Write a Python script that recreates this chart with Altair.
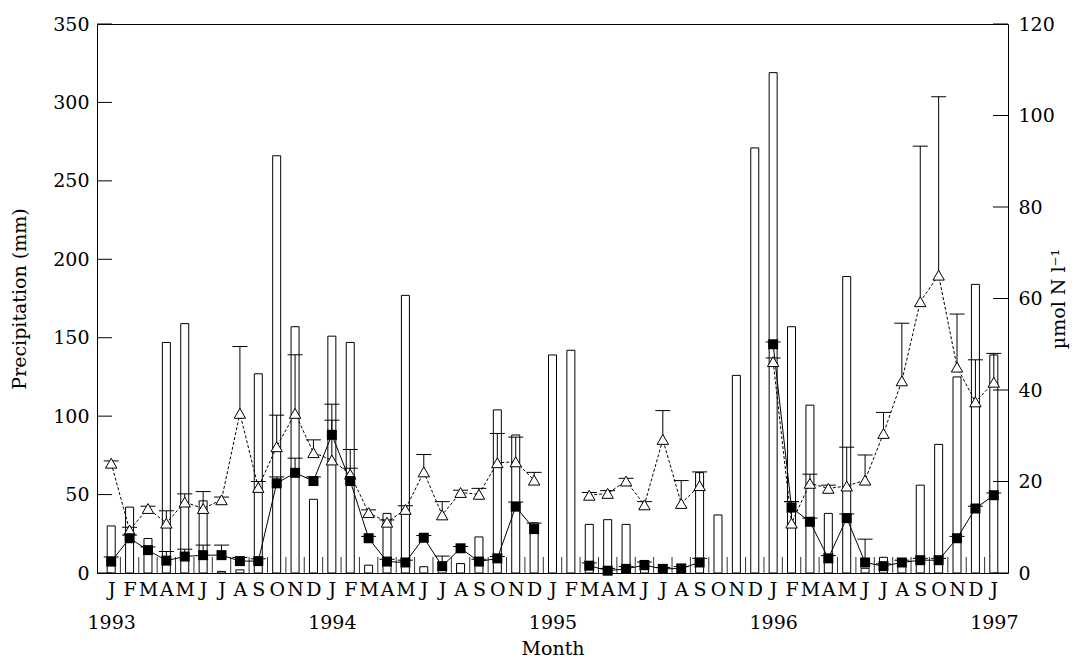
import altair as alt
import pandas as pd

# ---- data ----
months = list(range(49))  # Jan 1993 ... Jan 1997
month_letters = ["J", "F", "M", "A", "M", "J", "J", "A", "S", "O", "N", "D"]
years = [1993, 1994, 1995, 1996, 1997]

precip = [30, 42, 22, 147, 159, 46, 1, 2, 127, 266, 157, 47,
          151, 147, 5, 38, 177, 4, 3, 6, 23, 104, 88, 32,
          139, 142, 31, 34, 31, 8, 0, 0, 64, 37, 126, 271,
          319, 157, 107, 38, 189, 3, 10, 5, 56, 82, 125, 184,
          139]

sq = [2.5, 7.6, 5.0, 2.7, 3.6, 3.9, 3.9, 2.6, 2.6, 19.6, 21.9, 20.1,
      30.2, 20.1, 7.6, 2.5, 2.3, 7.7, 1.5, 5.4, 2.5, 3.2, 14.5, 9.6,
      None, None, 1.6, 0.5, 0.9, 1.7, 0.9, 1.0, 2.3, None, None, None,
      50.0, 14.3, 11.2, 3.2, 12.0, 2.3, 1.5, 2.3, 2.8, 2.8, 7.6, 14.1,
      17.0]
sq_hi = [3.5, 8.3, 5.7, 4.7, 5.2, 6.1, 6.1, 3.4, 3.1, 21.0, 25.1, 21.0,
         33.4, 22.9, 8.0, 3.0, 2.8, 8.2, 3.7, 5.8, 3.0, 3.6, 15.5, 10.9,
         None, None, 2.2, 1.0, 1.4, 2.4, 1.2, 1.4, 3.2, None, None, None,
         50.5, 15.6, 12.0, 3.8, 12.9, 7.4, 2.0, 2.8, 3.2, 3.2, 8.0, 14.6,
         17.5]

tri = [24.0, 9.4, 14.1, 10.9, 15.5, 14.1, 16.0, 34.9, 18.7, 27.6, 34.9, 26.3,
       24.7, 21.6, 13.2, 11.1, 13.9, 22.1, 12.7, 17.6, 17.2, 24.1, 24.3, 20.3,
       None, None, 17.0, 17.4, 20.1, 14.9, 29.2, 15.2, 19.1, None, None, None,
       46.2, 10.9, 19.6, 18.5, 19.0, 20.3, 30.5, 42.0, 59.3, 65.1, 45.0, 37.4,
       41.7]
tri_hi = [24.5, 10.0, 14.6, 13.6, 17.3, 17.8, 16.6, 49.5, 20.0, 34.5, 47.7, 29.1,
          36.9, 27.0, 13.8, 11.6, 14.7, 25.9, 15.6, 18.1, 18.5, 30.5, 29.7, 22.0,
          None, None, 17.6, 18.0, 20.7, 15.6, 35.5, 20.2, 22.1, None, None, None,
          47.0, 15.6, 21.6, 19.2, 27.5, 25.8, 35.1, 54.6, 93.3, 104.1, 56.6, 46.6,
          48.0]

left_ticks = [0, 50, 100, 150, 200, 250, 300, 350]
right_ticks = [0, 20, 40, 60, 80, 100, 120]
month_bounds = [i + 0.5 for i in range(48)]

df = pd.DataFrame({"m": months, "p": precip, "sq": sq, "sq_hi": sq_hi,
                   "tri": tri, "tri_hi": tri_hi})
df["seg_sq"] = df["sq"].isna().cumsum()
df["seg_tri"] = df["tri"].isna().cumsum()

W, H = 911, 549
FONT = "DejaVu Serif"
FS = 19

letters_js = "[" + ",".join("'%s'" % s for s in month_letters) + "]"
label_expr = ("datum.value % 12 == 0 ? ['J', '' + (1993 + datum.value / 12)] : "
              + letters_js + "[datum.value % 12]")

x_axis = alt.Axis(values=months, labelExpr=label_expr, ticks=False, domain=False,
                  grid=False, labelFlush=False, labelOverlap=False, labelPadding=7,
                  labelLineHeight=33, labelFontSize=FS, labelFont=FONT,
                  title="Month", titleFontSize=FS, titleFont=FONT,
                  titleFontWeight="normal", titlePadding=7, labelColor="black",
                  titleColor="black")
x_scale = alt.Scale(domain=[-0.5, 48.5], nice=False, zero=False)


def X(field="m"):
    return alt.X(f"{field}:Q", scale=x_scale, axis=x_axis)


left_axis = alt.Axis(values=left_ticks, ticks=False, domain=False, grid=False,
                     labelPadding=8, labelFontSize=FS, labelFont=FONT,
                     title="Precipitation (mm)", titleFontSize=FS, titleFont=FONT,
                     titleFontWeight="normal", titlePadding=23, labelColor="black",
                     titleColor="black")
left_scale = alt.Scale(domain=[0, 350], nice=False, zero=True)

right_axis = alt.Axis(values=right_ticks, ticks=False, domain=False, grid=False,
                      orient="right", labelPadding=10, labelFontSize=FS,
                      labelFont=FONT, title="µmol N l\u207b\u00b9", titleFontSize=FS,
                      titleFont=FONT, titleFontWeight="normal", titleAngle=270,
                      titlePadding=14, labelColor="black", titleColor="black")
right_scale = alt.Scale(domain=[0, 120], nice=False, zero=True)


def YL(field):
    return alt.Y(f"{field}:Q", scale=left_scale, axis=left_axis)


def YR(field):
    return alt.Y(f"{field}:Q", scale=right_scale, axis=right_axis)


base = alt.Chart(df)

bars = base.mark_bar(orient="vertical", size=8, fill="white", stroke="black",
                     strokeWidth=1).encode(x=X(), y=YL("p"))

lt_df = pd.DataFrame({"m": [0] * len(left_ticks), "t": left_ticks})
lticks = alt.Chart(lt_df).mark_rule(color="black", strokeWidth=1).encode(
    y=YL("t"), x=alt.value(0), x2=alt.value(15))

bt_df = pd.DataFrame({"m": month_bounds})
bticks = alt.Chart(bt_df).mark_rule(color="#333", strokeWidth=1).encode(
    x=X(), y=alt.value(H - 16), y2=alt.value(H))

left = alt.layer(bars, bticks, lticks)

tri_line = base.transform_filter("isValid(datum.tri)").mark_line(
    color="black", strokeWidth=1, strokeDash=[3, 2]).encode(
    x=X(), y=YR("tri"), detail="seg_tri:N")
sq_line = base.transform_filter("isValid(datum.sq)").mark_line(
    color="black", strokeWidth=1).encode(x=X(), y=YR("sq"), detail="seg_sq:N")

tri_err = base.transform_filter("isValid(datum.tri)").mark_rule(
    color="black", strokeWidth=1).encode(x=X(), y=YR("tri"), y2="tri_hi:Q")
tri_cap = base.transform_filter("isValid(datum.tri_hi)").mark_tick(
    orient="horizontal", size=15, thickness=1, color="black", opacity=1).encode(
    x=X(), y=YR("tri_hi"))
sq_err = base.transform_filter("isValid(datum.sq)").mark_rule(
    color="black", strokeWidth=1).encode(x=X(), y=YR("sq"), y2="sq_hi:Q")
sq_cap = base.transform_filter("isValid(datum.sq_hi)").mark_tick(
    orient="horizontal", size=15, thickness=1, color="black", opacity=1).encode(
    x=X(), y=YR("sq_hi"))

tri_pts = base.transform_filter("isValid(datum.tri)").mark_point(
    shape="triangle-up", size=130, filled=True, fill="white", stroke="black",
    strokeWidth=1, opacity=1).encode(x=X(), y=YR("tri"))
sq_pts = base.transform_filter("isValid(datum.sq)").mark_square(
    size=100, color="black", opacity=1).encode(x=X(), y=YR("sq"))

rt_df = pd.DataFrame({"m": [0] * len(right_ticks), "t": right_ticks})
rticks = alt.Chart(rt_df).mark_rule(color="black", strokeWidth=1).encode(
    y=YR("t"), x=alt.value(W - 15), x2=alt.value(W))

right = alt.layer(tri_line, sq_line, tri_err, tri_cap, sq_err, sq_cap,
                  tri_pts, sq_pts, rticks)

chart = alt.layer(left, right).resolve_scale(y="independent").properties(
    width=W, height=H,
    autosize=alt.AutoSizeParams(type="none"),
    padding={"left": 97, "top": 24, "right": 76, "bottom": 86},
    background="white",
).configure(font=FONT).configure_view(stroke="black", strokeWidth=1)

chart.save("out.html", embed_options={"renderer": "svg", "actions": False})
